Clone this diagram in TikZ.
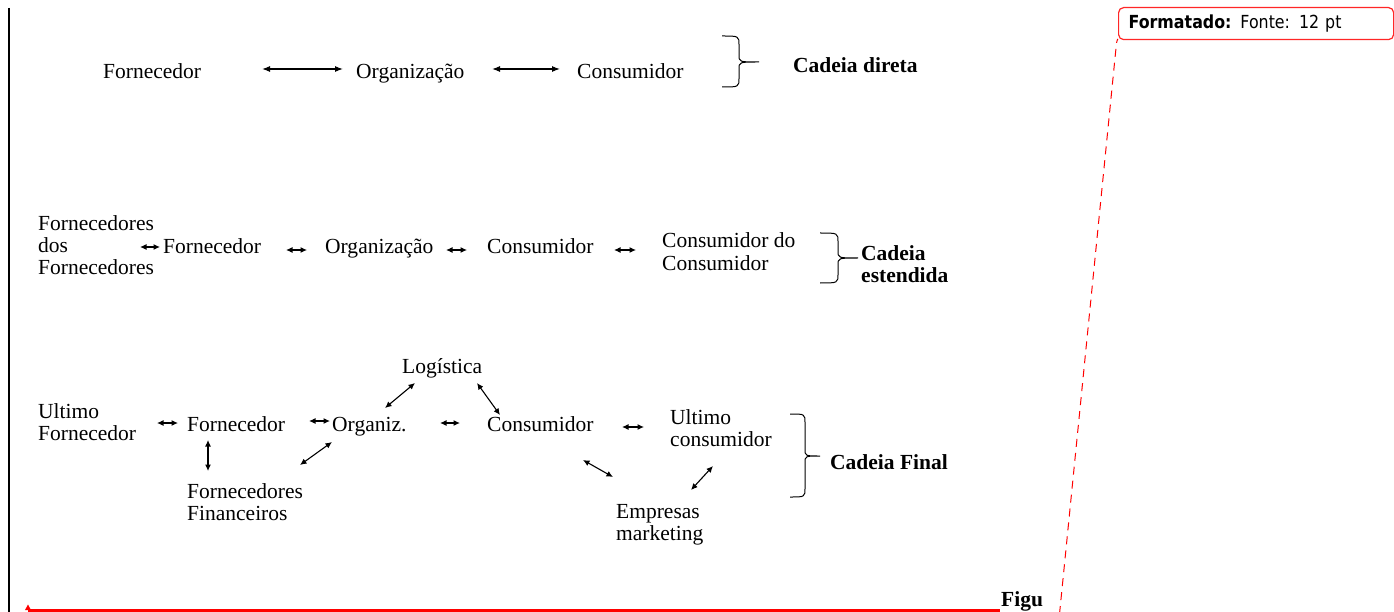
\documentclass[tikz,border=0pt]{standalone}
\usepackage{fontspec}
\setmainfont{Liberation Serif}
\newfontfamily\cmtfont[FakeStretch=0.88]{DejaVu Sans}
\usetikzlibrary{arrows.meta}
\newcommand\mlines[1]{\begin{tabular}[t]{@{}l@{}}#1\end{tabular}}
% x0 spine tip ytop ymid ybot
\newcommand\mybrace[6]{%
  \draw[bracestyle] (#1,#4) .. controls (#2,#4) .. ({#2},{#4+9})
    -- ({#2},{#5-7}) .. controls (#2,#5) .. (#3,#5)
    .. controls (#2,#5) .. ({#2},{#5+7})
    -- ({#2},{#6-9}) .. controls (#2,#6) .. (#1,#6);}
\begin{document}
\begin{tikzpicture}[x=1pt,y=-1pt,
  txt/.style={inner sep=0pt, anchor=base west, font=\fontsize{21.5}{22}\selectfont},
  bftxt/.style={inner sep=0pt, anchor=base west, font=\fontsize{21.5}{21}\selectfont\bfseries},
  longarr/.style={line width=1.1pt, {Latex[length=8pt,width=6pt]}-{Latex[length=8pt,width=6pt]}},
  shortarr/.style={line width=1.1pt, {Latex[length=6.5pt,width=6pt]}-{Latex[length=6.5pt,width=6pt]}},
  bracestyle/.style={line width=1pt},
  cmtbox/.style={draw=red!85!white, line width=1.2pt, rounded corners=5pt, anchor=north west,
     minimum width=275pt, minimum height=32pt, inner xsep=10pt, inner ysep=0pt,
     text width=255pt, align=left, font=\cmtfont\fontsize{18}{20}\selectfont},
  cdash/.style={red, line width=1pt, dash pattern=on 8pt off 6pt}
]
\clip (0,0) rectangle (1394,612);
\fill[white] (0,0) rectangle (1394,612);

% left margin bar
\draw[line width=2.5pt] (9,8) -- (9,615);

% ---------- Row 1 ----------
\node[txt] (f1) at (103,79) {Fornecedor};
\node[txt] (o1) at (356,79) {Organização};
\node[txt] (c1) at (577,79) {Consumidor};
\node[bftxt] (cd) at (793,73) {Cadeia direta};
\coordinate (a1s) at (262,69); \coordinate (a1e) at (343,69);
\coordinate (a2s) at (492,69); \coordinate (a2e) at (560,69);
\draw[longarr] (a1s) -- (a1e);
\draw[longarr] (a2s) -- (a2e);
\mybrace{722}{739}{759}{36}{62}{87}

% ---------- Row 2 ----------
\node[txt] (ff) at (38,231) {\mlines{Fornecedores\\dos\\Fornecedores}};
\node[txt] (f2) at (163,254) {Fornecedor};
\node[txt] (o2) at (325,254) {Organização};
\node[txt] (c2) at (487,254) {Consumidor};
\node[txt] (cc) at (662,248) {\mlines{Consumidor do\\Consumidor}};
\node[bftxt] (ce) at (861,261) {\mlines{Cadeia\\estendida}};
\coordinate (b1s) at (140,247); \coordinate (b1e) at (160,247);
\coordinate (b2s) at (286,250); \coordinate (b2e) at (307,250);
\coordinate (b3s) at (446,250); \coordinate (b3e) at (467,250);
\coordinate (b4s) at (614,250); \coordinate (b4e) at (636,250);
\draw[shortarr] (b1s) -- (b1e);
\draw[shortarr] (b2s) -- (b2e);
\draw[shortarr] (b3s) -- (b3e);
\draw[shortarr] (b4s) -- (b4e);
\mybrace{820}{838}{858}{233}{258}{283}

% ---------- Row 3 ----------
\node[txt] (uf) at (38,418) {\mlines{Ultimo\\Fornecedor}};
\node[txt] (f3) at (187,431) {Fornecedor};
\node[txt] (og) at (332,431) {Organiz.};
\node[txt] (c3) at (487,431) {Consumidor};
\node[txt] (uc) at (670,424) {\mlines{Ultimo\\consumidor}};
\node[txt] (lg) at (402,373) {Logística};
\node[txt] (fin) at (187,498) {\mlines{Fornecedores\\Financeiros}};
\node[txt] (em) at (616,518) {\mlines{Empresas\\marketing}};
\node[bftxt] (cf) at (830,469) {Cadeia Final};
\coordinate (c1s) at (157,423); \coordinate (c1e) at (178,423);
\coordinate (c2s) at (309,421); \coordinate (c2e) at (330,421);
\coordinate (c3s) at (440,423); \coordinate (c3e) at (460,423);
\coordinate (c4s) at (622,427); \coordinate (c4e) at (644,427);
\coordinate (v1s) at (208,440); \coordinate (v1e) at (208,471);
\coordinate (d1s) at (300,465); \coordinate (d1e) at (332,442);
\coordinate (d2s) at (385,408); \coordinate (d2e) at (415,383);
\coordinate (d3s) at (477,383); \coordinate (d3e) at (500,415);
\coordinate (d4s) at (583,460); \coordinate (d4e) at (613,477);
\coordinate (d5s) at (691,490); \coordinate (d5e) at (713,466);
\draw[shortarr] (c1s) -- (c1e);
\draw[shortarr] (c2s) -- (c2e);
\draw[shortarr] (c3s) -- (c3e);
\draw[shortarr] (c4s) -- (c4e);
\draw[shortarr] (v1s) -- (v1e);
\draw[shortarr] (d1s) -- (d1e);
\draw[shortarr] (d2s) -- (d2e);
\draw[shortarr] (d3s) -- (d3e);
\draw[shortarr] (d4s) -- (d4e);
\draw[shortarr] (d5s) -- (d5e);
\mybrace{790}{805}{820}{414}{456}{497}

% ---------- bottom change mark ----------
\coordinate (rl0) at (28,610.5); \coordinate (rl1) at (1000,610.5);
\draw[red, line width=3pt] (rl0) -- (rl1);
\fill[red] (25,610) -- (28,604.5) -- (31,610) -- cycle;
\node[bftxt] (fig) at (1001,606) {Figu};

% ---------- comment balloon ----------
\node[cmtbox] (cmt) at (1118,7) {\textbf{Formatado:} Fonte: 12 pt};
\coordinate (dend) at (1059.5,614);
\draw[cdash] (dend) -- (1116.5,43) .. controls (1117.5,39) .. (cmt.south west);
\end{tikzpicture}
\end{document}
